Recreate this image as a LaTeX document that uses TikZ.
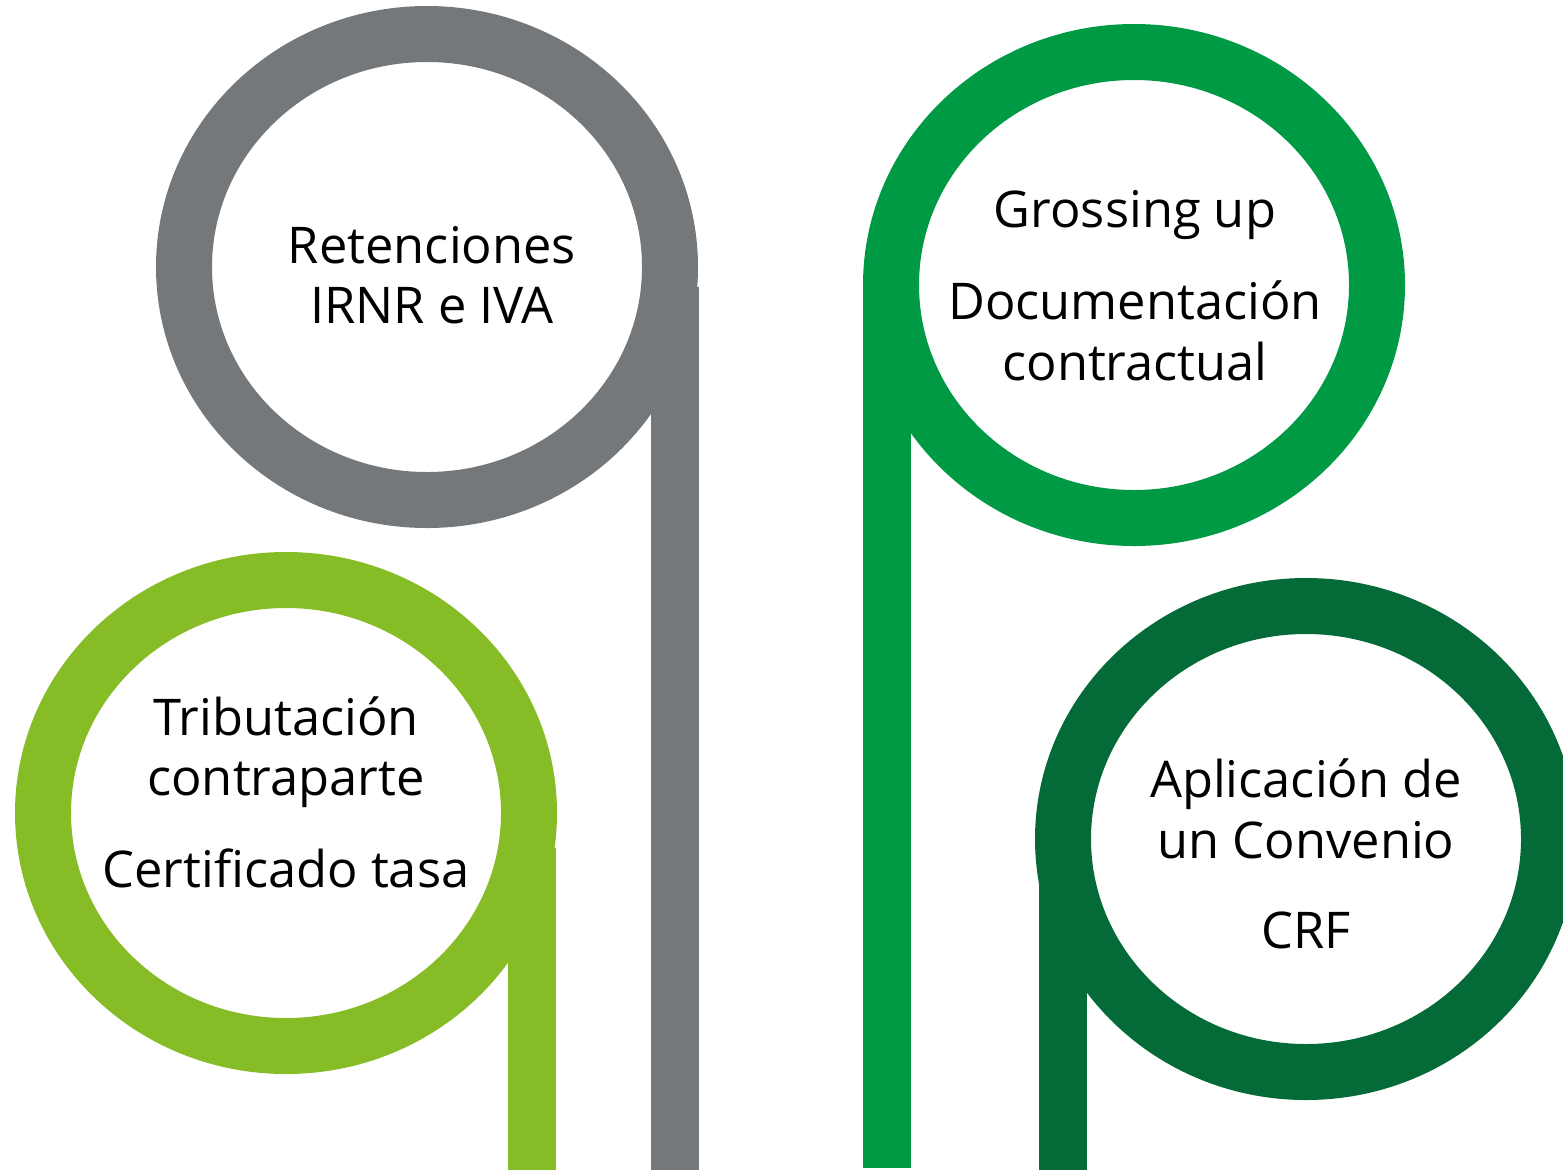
\documentclass[tikz,border=0pt]{standalone}
\usepackage{fontspec}
\setmainfont{Open Sans}
\usepackage{tikz}
\usetikzlibrary{positioning}
\usetikzlibrary{calc}

\definecolor{coolgray}{HTML}{75787B}
\definecolor{limegreen}{HTML}{86BC25}
\definecolor{midgreen}{HTML}{009A44}
\definecolor{darkgreen}{HTML}{046A38}

\begin{document}
\begin{tikzpicture} [
            x=0.5pt, y=-0.5pt,
            ring/.style={line width=28pt},
            label/.style={font=\fontsize{25.3}{30}\selectfont, anchor=base, inner sep=0pt}
        ]
        \clip (0,0) rectangle (1563,1174);
        % rings
        \draw[ring, coolgray] (427,267) ellipse [x radius=243, y radius=233];
        \draw[ring, limegreen] (286,813) ellipse [x radius=243, y radius=233];
        \draw[ring, midgreen] (1134,285) ellipse [x radius=243, y radius=233];
        \draw[ring, darkgreen] (1306,839) ellipse [x radius=243, y radius=233];
        % stems
        \fill[coolgray] (651,287) rectangle (699,1170);
        \fill[limegreen] (508,848) rectangle (556,1170);
        \fill[midgreen] (863,285) rectangle (911,1168);
        \fill[darkgreen] (1039,880) rectangle (1087,1170);
        % texts
        \node[label] (ret1) at (432,263) {Retenciones};
        \node[label] (ret2) at (432,323) {IRNR e IVA};
        \node[label] (gro1) at (1135,227) {Grossing up};
        \node[label] (doc1) at (1135,319) {Documentación};
        \node[label] (doc2) at (1135,380) {contractual};
        \node[label] (tri1) at (286,735) {Tributación};
        \node[label] (tri2) at (286,795) {contraparte};
        \node[label] (cer1) at (286,887) {Certificado tasa};
        \node[label] (apl1) at (1306,797) {Aplicación de};
        \node[label] (apl2) at (1306,858) {un Convenio};
        \node[label] (crf1) at (1306,948) {CRF};
    \end{tikzpicture}
\end{document}
